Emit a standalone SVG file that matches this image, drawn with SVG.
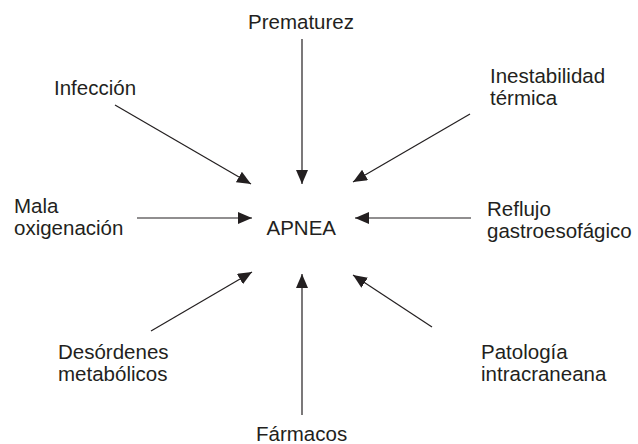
<svg xmlns="http://www.w3.org/2000/svg" width="638" height="444" viewBox="0 0 638 444">
<style>
text{font-family:"Liberation Sans",Arial,Helvetica,sans-serif;font-size:20.5px;fill:#231f20}
.c{stroke:#231f20;stroke-width:1.2;fill:none;marker-end:url(#ah)}
</style>
<defs>
<marker id="ah" viewBox="0 0 14 12" refX="14" refY="6" markerWidth="14" markerHeight="12" markerUnits="userSpaceOnUse" orient="auto">
<path d="M0,0 L14,6 L0,12 z" fill="#231f20"/>
</marker>
</defs>
<rect width="638" height="444" fill="#fff"/>
<g id="connectors">
<line class="c" x1="302" y1="39" x2="302" y2="184"/>
<line class="c" x1="115" y1="105" x2="251" y2="184"/>
<line class="c" x1="470" y1="114" x2="353" y2="182"/>
<line class="c" x1="471" y1="218" x2="355" y2="218"/>
<line class="c" x1="137" y1="218" x2="252" y2="218"/>
<line class="c" x1="151" y1="331" x2="252" y2="272"/>
<line class="c" x1="432" y1="327" x2="353" y2="275"/>
<line class="c" x1="302" y1="415" x2="302" y2="274"/>
</g>
<g id="apnea"><text x="266.5" y="234.5">APNEA</text></g>
<g id="prematurez"><text x="248" y="28.5" font-size="21">Prematurez</text></g>
<g id="infeccion"><text x="54" y="95" font-size="21">Infección</text></g>
<g id="inestabilidad"><text x="490" y="82.5">Inestabilidad</text><text x="490" y="105">térmica</text></g>
<g id="mala"><text x="14" y="213">Mala</text><text x="14" y="235">oxigenación</text></g>
<g id="reflujo"><text x="487" y="215.5">Reflujo</text><text x="487" y="237.5">gastroesofágico</text></g>
<g id="desordenes"><text x="58" y="359">Desórdenes</text><text x="58" y="381">metabólicos</text></g>
<g id="patologia"><text x="481" y="358.5">Patología</text><text x="481" y="380.5">intracraneana</text></g>
<g id="farmacos"><text x="256" y="441" font-size="21">Fármacos</text></g>
</svg>
